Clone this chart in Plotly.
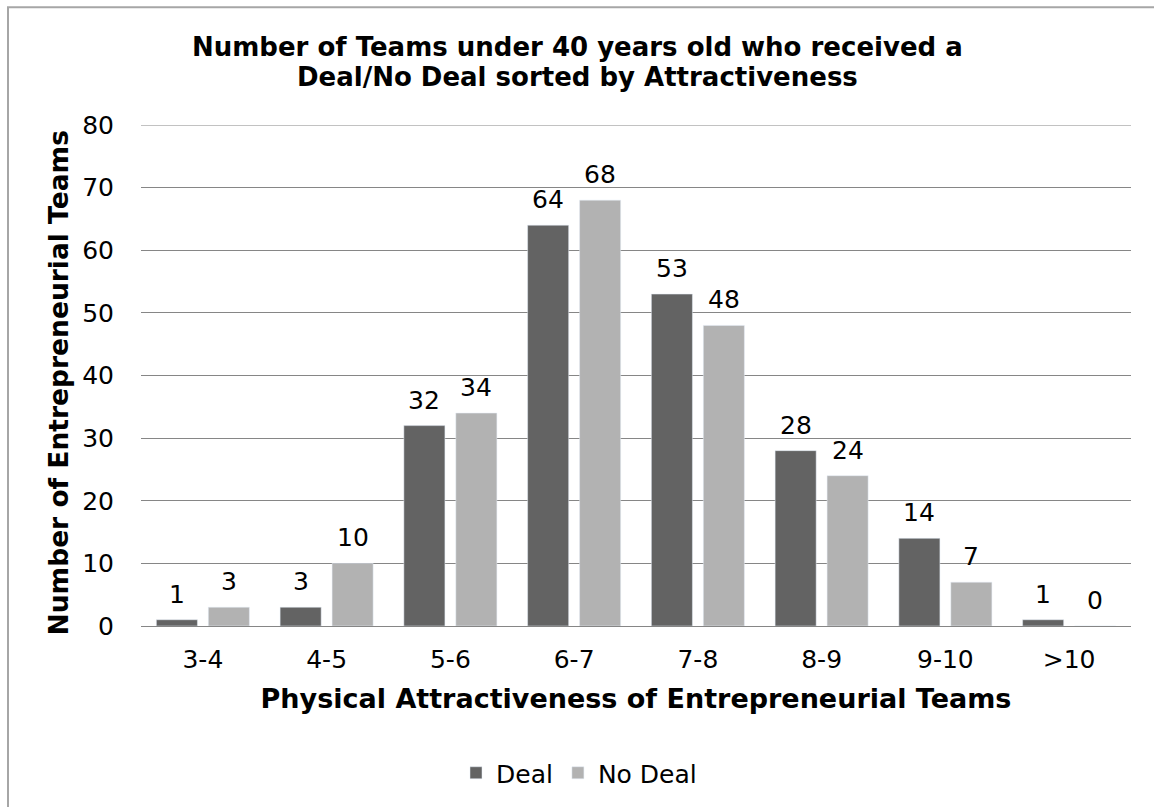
import plotly.graph_objects as go

# Attractiveness bins and team counts
categories = ["3-4", "4-5", "5-6", "6-7", "7-8", "8-9", "9-10", ">10"]
deal = [1, 3, 32, 64, 53, 28, 14, 1]
no_deal = [3, 10, 34, 68, 48, 24, 7, 0]
y_ticks = [0, 10, 20, 30, 40, 50, 60, 70, 80]

W, H = 1154, 807
L, R, T, B = 141, 23, 125, 180
FONT = "DejaVu Sans, Verdana, sans-serif"
DEAL_COLOR = "#636363"
NO_DEAL_COLOR = "#b2b2b2"
GRID_COLOR = "#868686"

fig = go.Figure()
fig.add_trace(go.Bar(name="Deal", x=categories, y=deal, marker_color=DEAL_COLOR))
fig.add_trace(go.Bar(name="No Deal", x=categories, y=no_deal, marker_color=NO_DEAL_COLOR))

pw, ph = W - L - R, H - T - B
BARGAP, GROUPGAP = 0.16, 0.21
slot = pw / len(categories) * (1 - BARGAP) / 2  # width of one bar slot in px


def px_x(p):
    return (p - L) / pw


def px_y(p):
    return (H - B - p) / ph


# value labels above each bar, shifted to the bar's slot inside the group
annotations = []
for values, shift in ((deal, -slot / 2), (no_deal, slot / 2)):
    for cat, v in zip(categories, values):
        annotations.append(dict(
            x=cat, y=v, xref="x", yref="y", text=str(v), showarrow=False,
            xshift=shift, yshift=9, yanchor="bottom", xanchor="center",
            font=dict(size=25, color="#000000", family=FONT),
        ))

# two-line chart title
for line, cy in (("Number of Teams under 40 years old who received a", 47),
                 ("Deal/No Deal sorted by Attractiveness", 77)):
    annotations.append(dict(
        x=px_x(577), y=px_y(cy), xref="paper", yref="paper",
        text=f"<b>{line}</b>", showarrow=False,
        xanchor="center", yanchor="middle",
        font=dict(size=26, color="#000000", family=FONT),
    ))

# vertical y-axis title
annotations.append(dict(
    x=px_x(58), y=px_y(384), xref="paper", yref="paper",
    text="<b>Number of Entrepreneurial Teams</b>", showarrow=False,
    textangle=-90, xanchor="center", yanchor="middle",
    font=dict(size=26.5, color="#000000", family=FONT),
))

fig.update_layout(
    width=W, height=H,
    margin=dict(l=L, r=R, t=T, b=B),
    paper_bgcolor="white", plot_bgcolor="white",
    font=dict(family=FONT, size=25, color="#000000"),
    barmode="group", bargap=BARGAP, bargroupgap=GROUPGAP,
    xaxis=dict(
        showgrid=False, showline=True, linecolor=GRID_COLOR, linewidth=1,
        ticks="", tickfont=dict(size=25), ticklabelstandoff=11,
        title=dict(text="<b>Physical Attractiveness of Entrepreneurial Teams</b>",
                   font=dict(size=27), standoff=16),
    ),
    yaxis=dict(
        range=[0, y_ticks[-1]], tickvals=y_ticks, showgrid=True, gridcolor=GRID_COLOR,
        gridwidth=1, zeroline=False, showline=False, ticks="",
        tickfont=dict(size=25), ticklabelstandoff=26,
    ),
    legend=dict(
        orientation="h", x=px_x(579), xanchor="center",
        y=px_y(773), yanchor="middle", font=dict(size=25),
        itemwidth=30, traceorder="normal",
    ),
    annotations=annotations,
    shapes=[
        # top gridline at the axis maximum
        dict(type="line", xref="paper", yref="y", x0=0, x1=1,
             y0=y_ticks[-1], y1=y_ticks[-1], line=dict(color=GRID_COLOR, width=1)),
        # chart border
        dict(type="rect", xref="paper", yref="paper",
             x0=px_x(8), x1=px_x(1170), y0=px_y(7), y1=px_y(830),
             line=dict(color="#a6a6a6", width=2), fillcolor="rgba(0,0,0,0)",
             layer="below"),
    ],
)

fig.write_html("out.html")
